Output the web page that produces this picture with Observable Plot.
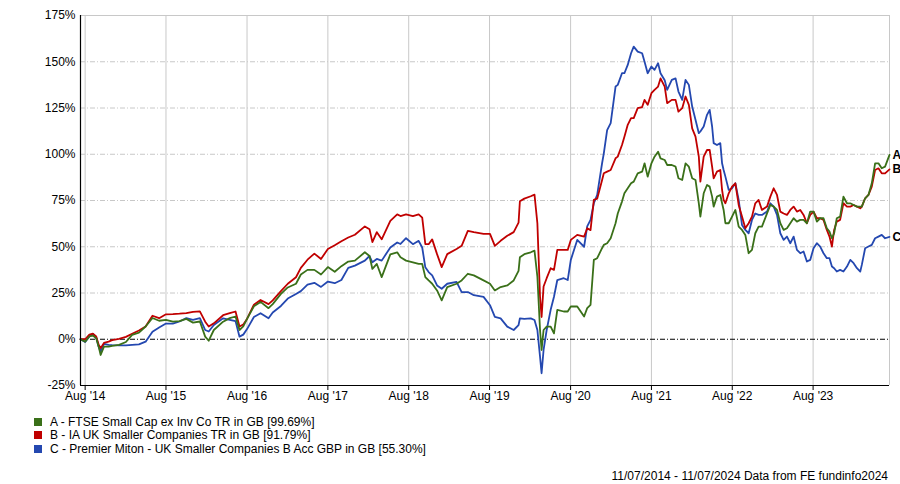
<!DOCTYPE html>
<html><head><meta charset="utf-8">
<script src="https://cdn.jsdelivr.net/npm/d3@7"></script>
<script src="https://cdn.jsdelivr.net/npm/@observablehq/plot@0.6"></script>
<style>
body{margin:0;background:#fff;font-family:"Liberation Sans",Arial,sans-serif;color:#000;}
#wrap{position:relative;width:900px;height:484px;overflow:hidden;}
#chart{position:absolute;left:0;top:0;}
.leg{position:absolute;left:34px;font-size:12px;line-height:12px;height:12px;white-space:nowrap;}
.leg span.sw{display:inline-block;width:8px;height:8px;margin-right:8px;vertical-align:0px;}
#footer{position:absolute;right:12px;top:470px;font-size:12px;line-height:12px;white-space:nowrap;}
</style></head><body>
<div id="wrap"><div id="chart"></div><div id="legend"></div><div id="footer">11/07/2014 - 11/07/2024 Data from FE fundinfo2024</div></div>
<script>
const dates = ["2014-07-11","2014-08-01","2014-08-20","2014-09-05","2014-09-20","2014-10-01","2014-10-10","2014-10-25","2014-11-15","2014-12-01",
"2015-01-01","2015-02-01","2015-03-01","2015-04-01","2015-05-01","2015-06-01","2015-07-01","2015-08-01","2015-09-01","2015-10-01","2015-11-01","2015-12-01",
"2016-01-01","2016-01-25","2016-02-10","2016-03-04","2016-04-15","2016-05-15","2016-06-10","2016-06-28","2016-07-15","2016-08-01","2016-09-01","2016-10-01","2016-11-06","2016-11-25",
"2017-01-01","2017-02-01","2017-03-10","2017-04-01","2017-05-01","2017-06-01","2017-07-01","2017-08-01","2017-09-01","2017-10-01","2017-11-01","2017-12-01",
"2018-01-15","2018-02-05","2018-02-18","2018-03-10","2018-04-01","2018-05-10","2018-06-10","2018-06-25","2018-07-20","2018-08-20","2018-09-15","2018-10-01","2018-10-15","2018-10-30","2018-11-15","2018-12-07","2018-12-28",
"2019-01-22","2019-03-05","2019-03-28","2019-04-25","2019-05-22","2019-07-05","2019-08-03","2019-08-25","2019-09-20","2019-10-20","2019-11-18","2019-12-10","2019-12-16",
"2020-01-05","2020-02-03","2020-02-20","2020-03-04","2020-03-16","2020-03-23","2020-04-01","2020-04-15","2020-05-03","2020-05-18","2020-06-02","2020-07-01","2020-07-19","2020-08-02","2020-08-31","2020-10-01","2020-10-15","2020-10-30","2020-11-14","2020-11-29","2020-12-21","2020-12-29",
"2021-01-13","2021-01-29","2021-02-20","2021-03-02","2021-03-21","2021-04-01","2021-04-16","2021-05-01","2021-05-13","2021-05-31","2021-06-20","2021-07-01","2021-07-15","2021-08-01","2021-08-15","2021-08-31","2021-09-11","2021-09-30","2021-10-11","2021-11-01","2021-11-18","2021-12-01","2021-12-18",
"2022-01-02","2022-01-17","2022-02-01","2022-02-16","2022-03-03","2022-03-10","2022-03-25","2022-04-09","2022-04-21","2022-05-02","2022-05-09","2022-05-24","2022-06-08","2022-06-16","2022-06-23","2022-07-01","2022-07-16","2022-07-31","2022-08-15","2022-08-30","2022-09-14","2022-09-29","2022-10-14","2022-10-29","2022-11-13","2022-11-28","2022-12-13",
"2023-01-05","2023-01-20","2023-02-04","2023-02-19","2023-03-06","2023-03-21","2023-04-05","2023-04-20","2023-05-05","2023-05-20","2023-06-04","2023-06-19","2023-07-04","2023-07-19","2023-08-03","2023-08-18","2023-09-02","2023-09-17","2023-10-02","2023-10-14","2023-10-25","2023-11-04","2023-11-16","2023-12-01","2023-12-16",
"2024-01-01","2024-01-16","2024-01-31","2024-02-15","2024-03-01","2024-03-08","2024-03-23","2024-04-07","2024-04-22","2024-05-07","2024-05-22","2024-06-06","2024-06-21","2024-07-11"];

// A - FTSE Small Cap ex Inv Co TR (green)
const seriesA = [0,-1.3,1.5,2,0.5,-4,-8.5,-4,-4,-3.6,
-3,-1.5,2.4,3.6,6.9,11.5,10,10.5,9.5,9.8,11,9,
9.6,1.4,-0.8,5,9.5,11.4,12.3,5,7,11,17.8,20.2,16.8,19,
24.5,28,30,35,37.5,37.5,35,39,36.5,39.5,42,42.5,
47,45,38,40.7,33.6,45.9,47,44.3,42.5,41.6,40.7,40.7,33.6,31.8,30,26.4,21,
28.2,30,31.8,35.4,34.5,31.8,30,26.4,28.2,29.1,31.8,37,44.3,
46,47,47.9,33.9,5,-5.8,5,6.8,6.8,3.2,15.9,15,15,17.7,17.7,12.3,16.8,18.6,42.9,43.8,49.2,51,
51.9,54.6,62.7,68,74.4,78.9,81.6,84.3,85.2,89.7,90.6,95.1,87.9,95.1,98.7,101.4,97.8,96.9,94.2,94.2,93.3,87,86.1,
95.1,93.3,87,86.1,73.5,66.3,78.9,83.4,82.5,77.1,71.7,77.1,78,73.5,69.9,62.7,62.7,66.3,69.9,60.9,59.1,56.4,46.5,48.3,57.3,60.9,60.9,
68,72.6,71.7,69.9,62.7,59.1,60,62.7,65.4,63.6,64.5,64.5,62.7,69,69,63.6,65.4,65.4,60,58.2,54.6,57.3,65.4,66.3,77.1,
73.5,73.5,72.6,71.7,71.7,71.7,76.2,78,84.3,95.1,95.1,92.4,93.3,99.69];

// B - IA UK Smaller Companies TR (red)
const seriesB = [0,0,2.5,3,1.5,-3,-4.8,-2,-1.3,-0.5,
0.2,1.3,3,4.7,6.9,12.7,11.4,13.5,13.6,13.8,14.1,14.8,
15.1,9.5,6.9,8.6,13,14.1,15,6.9,8,11,18.7,21.2,19,21,
26,30,33.5,38.6,43,46.3,43.4,48.8,50.8,53,55,56.5,
61,59.5,52.5,57.9,54,64,67.5,66.6,67.5,66.6,67.5,65.7,51.4,51.4,54,46,39,
46,48.8,50.5,58.6,57.9,57,57,50.5,53.2,55.9,57.9,63,74.6,
76,77.3,78.2,62.7,23,12,28.5,33,38.4,37.5,48.3,48.3,48.3,53.7,56.4,55.5,60,59,75.3,76,86,89.7,
90.6,91.5,97.8,98.7,105,109.5,115.9,119.5,119.5,124.9,125.5,129.4,126.7,133,134.8,136.6,141,136.6,127.6,129.4,129.4,123,124.9,
131.2,126.7,114,109.5,98.7,85.2,98.7,102.3,102.3,93.3,87,90.6,91.5,80.7,75.3,73.5,78.9,82.5,84.3,72.6,66.3,60,62.7,66.3,73.5,75.3,69.9,
71.7,77.1,81.6,78,69,68,67.2,69.9,71.7,69,69.9,67.2,62.7,67.2,69,65.4,65.4,64.5,59.1,55.5,50.1,59.1,63.6,64.5,73.5,
71.7,71.7,72.6,71.7,70.8,71.7,76.2,78,82.5,91.5,92.4,89.7,89.7,91.79];

// C - Premier Miton UK Smaller Companies B Acc (blue)
const seriesC = [0,-1.5,1.5,2.9,1,-4,-6.7,-2.5,-3,-3.2,
-3.3,-3.3,-3,-2.8,-1.3,4.1,6.4,8.5,8.5,9.6,11.4,10.5,
11.4,5,4.2,7.7,11.3,10.5,9.8,1.4,2.5,5.5,12,14.1,11.3,14.5,
18,22,24.5,26,29.5,30.5,28.3,31.2,30.3,32,38.6,39.8,
42.5,45,41.6,43.4,42.5,49.6,52.3,51.5,54.6,51.4,53.2,49.6,38.9,36.3,34.5,29.1,27.3,
30,31,25.5,25.5,23.8,22.9,18.4,12.1,11.3,6.8,5,7.7,11.3,
11,11.3,10.4,5,-9.4,-18.4,-5.8,5,15.9,23,32,33,32,42.9,53.7,50,61,64.5,73.5,78,95,100.5,
113,116.8,136.6,137.5,143.8,143.8,148.3,154.6,158.2,155.5,154.6,150,143.8,147.4,145.6,149.2,143.8,140,134.8,140.2,141,133.9,129.4,
140.2,137.5,125.8,118.6,111.4,112.3,115,121.3,124,115,106,105,106,95.1,91.5,87.9,80.7,81.6,84.3,75.3,61.8,59.1,57.3,64.5,68,67.2,67.2,
69,73.5,71.7,67.2,57.3,53.7,55.5,51.9,55.5,48.3,46.5,47.4,42,42.9,49.2,51.9,50.1,46.5,43.8,43.8,39.3,38.4,36.6,37.5,36.6,
39.3,42.9,41.1,38.4,36.6,40.2,49.2,50.1,51,54.6,55.5,56.4,54.6,55.3];

const seriesKeys = ["A","B","C"];
const seriesNames = [
  "A - FTSE Small Cap ex Inv Co TR in GB [99.69%]",
  "B - IA UK Smaller Companies TR in GB [91.79%]",
  "C - Premier Miton - UK Smaller Companies B Acc GBP in GB [55.30%]"
];
const seriesColors = ["#3a7019","#c00000","#2448b0"];
const tickDates = ["2014-08-01","2015-08-01","2016-08-01","2017-08-01","2018-08-01","2019-08-01","2020-08-01","2021-08-01","2022-08-01","2023-08-01"];
const tickLabels = ["Aug '14","Aug '15","Aug '16","Aug '17","Aug '18","Aug '19","Aug '20","Aug '21","Aug '22","Aug '23"];
const yTicks = [-25,0,25,50,75,100,125,150,175];
const startDate = "2014-07-11", endDate = "2024-07-11";

const allSeries = [seriesA, seriesB, seriesC];
const rows = seriesKeys.map((k, s) => dates.map((d, i) => ({date: new Date(d), value: allSeries[s][i], key: k})));
const last = seriesKeys.map((k, s) => ({date: new Date(dates[dates.length-1]), value: allSeries[s][dates.length-1], key: k}));
const tickMap = new Map(tickDates.map((d, i) => [+new Date(d), tickLabels[i]]));
const dash = "5,2,1,2";

const chart = Plot.plot({
  width: 900, height: 402,
  marginLeft: 80, marginRight: 11, marginTop: 15, marginBottom: 17,
  style: {fontFamily: "'Liberation Sans', Arial, sans-serif", fontSize: "12px", background: "#fff", color: "#000", overflow: "visible"},
  x: {type: "utc", domain: [new Date(startDate), new Date(endDate)], label: null},
  y: {domain: [-25, 175], label: null},
  color: {domain: seriesKeys, range: seriesColors},
  marks: [
    Plot.ruleY(yTicks.filter(v => v !== 0 && v !== 175 && v !== -25), {stroke: "#c8c8c8", strokeDasharray: dash, strokeWidth: 1}),
    Plot.ruleX(tickDates.map(d => new Date(d)), {stroke: "#c8c8c8", strokeWidth: 1}),
    Plot.ruleY([175], {stroke: "#c8c8c8"}),
    Plot.ruleX([new Date(endDate)], {stroke: "#c8c8c8"}),
    Plot.ruleY([0], {stroke: "#000", strokeDasharray: dash, strokeWidth: 1}),
    Plot.lineY(rows[2], {x: "date", y: "value", stroke: "key", strokeWidth: 1.8}),
    Plot.lineY(rows[1], {x: "date", y: "value", stroke: "key", strokeWidth: 1.8}),
    Plot.lineY(rows[0], {x: "date", y: "value", stroke: "key", strokeWidth: 1.8}),
    Plot.ruleX([new Date(startDate)], {stroke: "#000", strokeWidth: 1.2}),
    Plot.ruleY([-25], {stroke: "#000", strokeWidth: 1.2}),
    Plot.axisY({ticks: yTicks, tickFormat: d => d + "%", tickSize: 0, tickPadding: 5, fontSize: 12}),
    Plot.axisX({ticks: tickDates.map(d => new Date(d)), tickFormat: d => tickMap.get(+d), tickSize: 5, tickPadding: 1, stroke: "#000", fontSize: 12}),
    Plot.text(last, {x: "date", y: "value", text: "key", dx: 3, textAnchor: "start", fill: "#000", fontSize: 12, fontWeight: "bold"})
  ]
});
document.getElementById("chart").appendChild(chart);

const legendTops = [416, 429, 443];
const legend = document.getElementById("legend");
seriesNames.forEach((name, i) => {
  const div = document.createElement("div");
  div.className = "leg";
  div.style.top = legendTops[i] + "px";
  div.innerHTML = `<span class="sw" style="background:${seriesColors[i]}"></span>`;
  div.appendChild(document.createTextNode(name));
  legend.appendChild(div);
});
</script>
</body></html>
